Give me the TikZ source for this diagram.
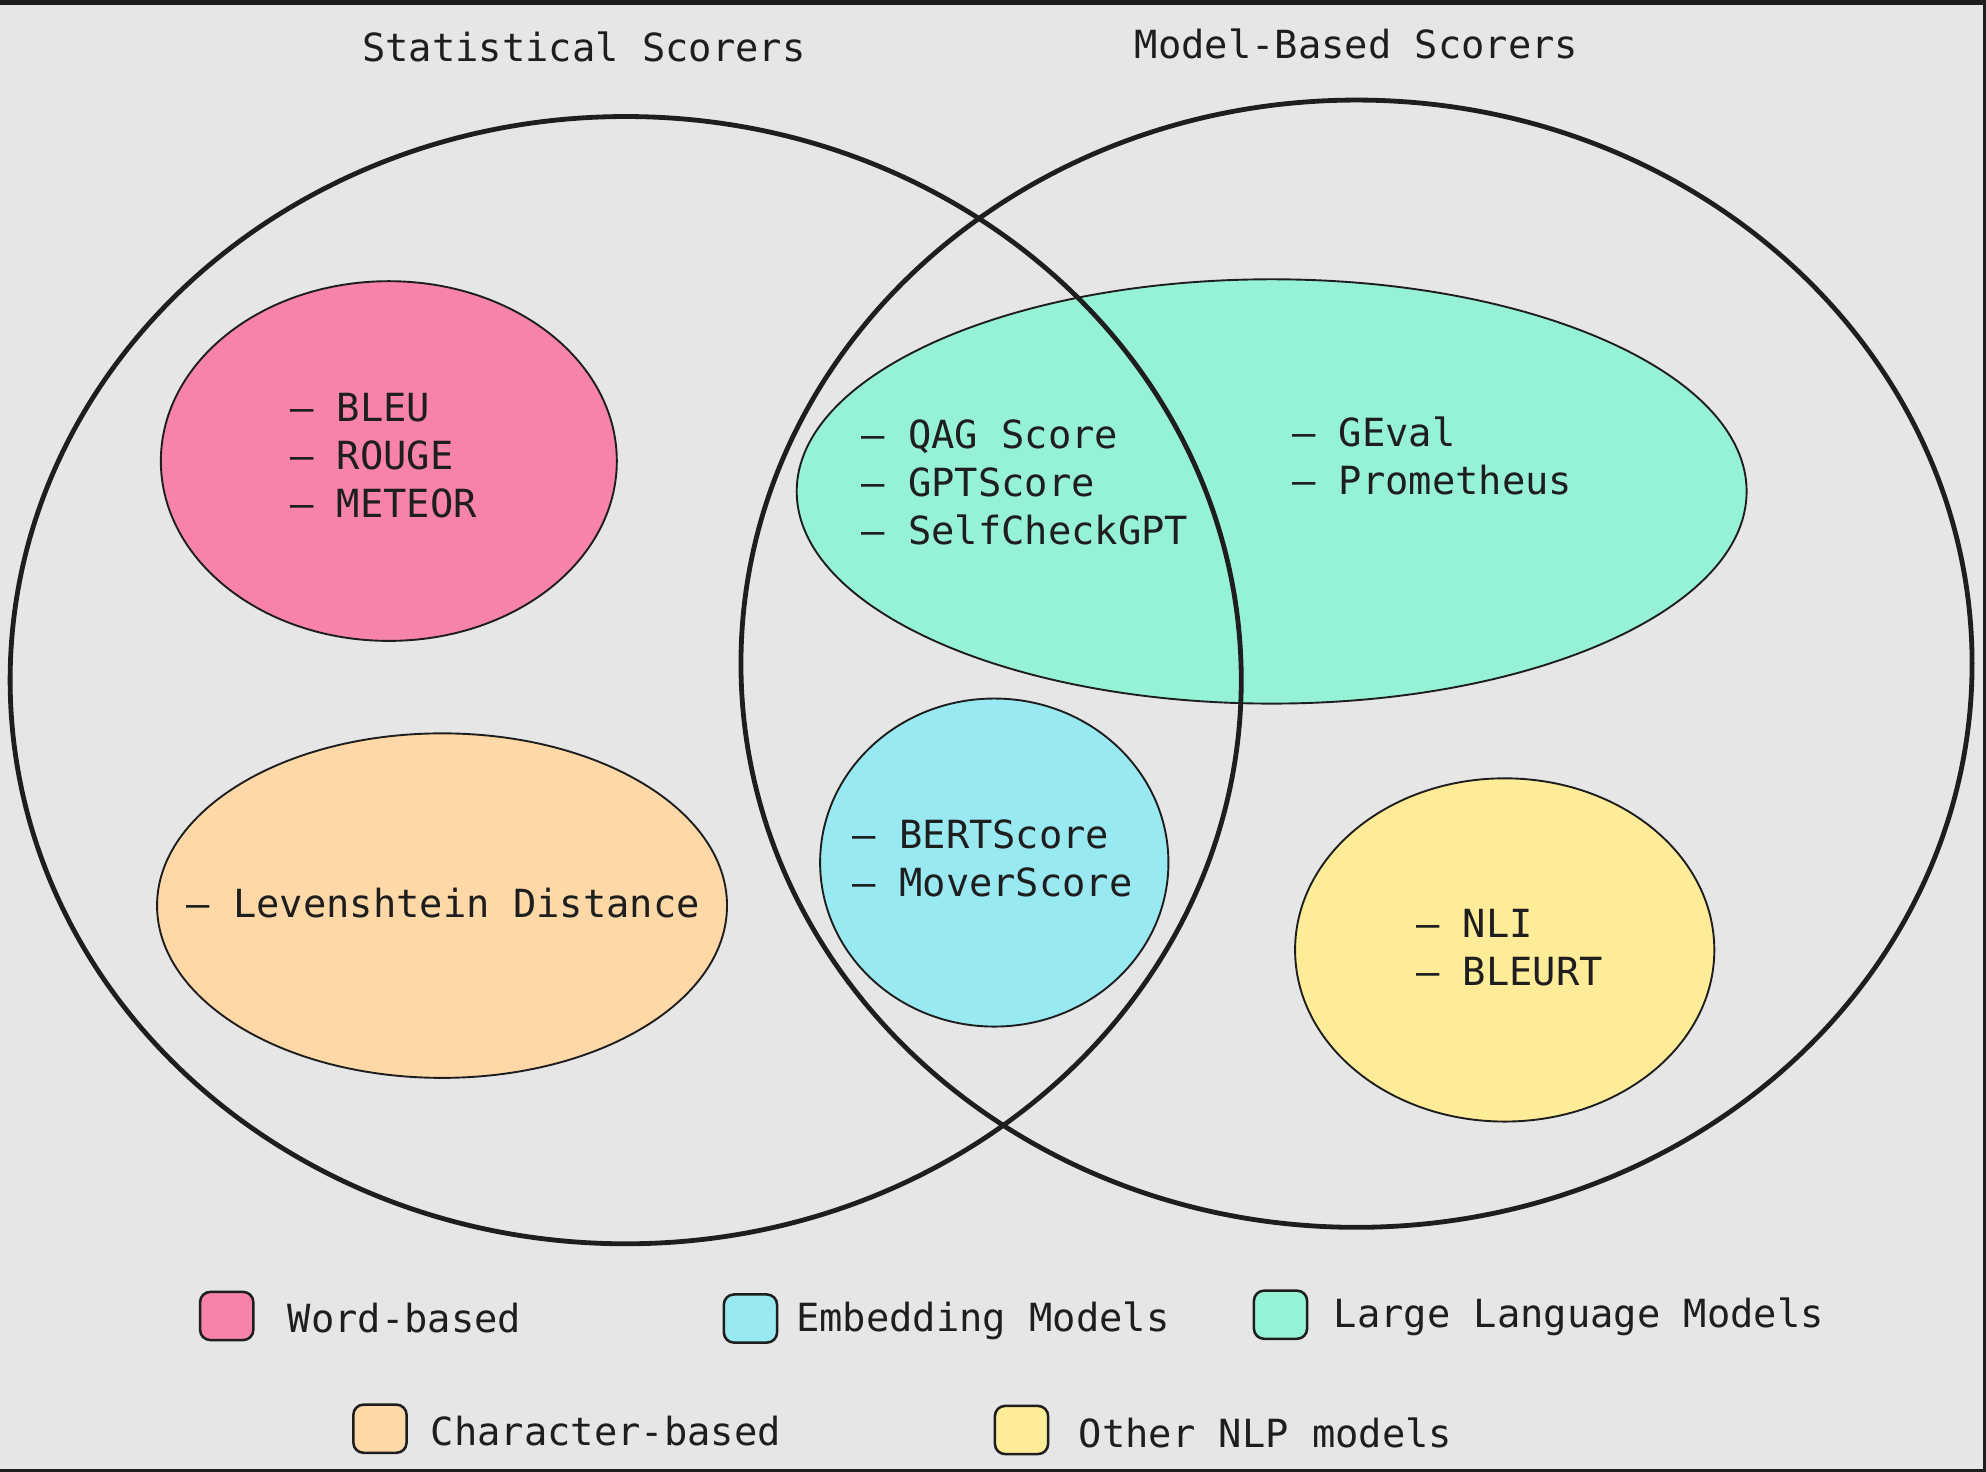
\documentclass[tikz,border=0pt]{standalone}
\usepackage{fontspec}
\setmonofont{DejaVu Sans Mono}
\usetikzlibrary{shapes.geometric,positioning}
\definecolor{bgray}{HTML}{E6E6E6}
\definecolor{inkc}{HTML}{1E1E1E}
\definecolor{wordc}{HTML}{F783AC}
\definecolor{charc}{HTML}{FFD8A8}
\definecolor{llmc}{HTML}{96F2D7}
\definecolor{embc}{HTML}{99E9F2}
\definecolor{nlpc}{HTML}{FFEC99}
\tikzset{
  setring/.style={draw=inkc, line width=3.8pt, ellipse, inner sep=0pt},
  group/.style={draw=inkc, line width=1.5pt, ellipse, inner sep=0pt},
  items/.style={font=\ttfamily\fontsize{30.6}{38}\selectfont, text=inkc, align=left, anchor=west, inner sep=0pt},
  heading/.style={font=\ttfamily\fontsize{30.6}{38}\selectfont, text=inkc, inner sep=0pt},
  keybox/.style={draw=inkc, line width=2pt, rounded corners=8pt, minimum width=42pt, minimum height=38pt, inner sep=0pt},
  keytext/.style={font=\ttfamily\fontsize{30.6}{38}\selectfont, text=inkc, inner sep=0pt, anchor=west, yshift=-2pt}
}
\begin{document}
\begin{tikzpicture}[x=1pt, y=-1pt]
\useasboundingbox (0,0) rectangle (1568,1162);
\fill[bgray] (0,0) rectangle (1568,1162);
\fill[inkc] (0,0) rectangle (1568,4);
\fill[inkc] (1566,0) rectangle (1568,1162);
\fill[inkc] (0,1159.5) rectangle (1568,1162);
% groups of scorers
\node[group, fill=wordc, minimum width=360pt, minimum height=284pt] (word) at (307,364) {};
\node[group, fill=charc, minimum width=450pt, minimum height=272pt] (char) at (349,715) {};
\node[group, fill=llmc, minimum width=750pt, minimum height=335pt] (llm) at (1004,388) {};
\node[group, fill=embc, minimum width=275pt, minimum height=259pt] (emb) at (785,681) {};
\node[group, fill=nlpc, minimum width=331pt, minimum height=271pt] (nlp) at (1188,750) {};
% the two sets
\node[setring, minimum width=972pt, minimum height=890pt] (stat) at (494,537) {};
\node[setring, minimum width=972pt, minimum height=890pt] (model) at (1071,524) {};
\node[heading] (stattitle) at (461,37) {Statistical Scorers};
\node[heading] (modeltitle) at (1071,35) {Model-Based Scorers};
% members
\node[items] (wordlist) at (229,360) {– BLEU\\– ROUGE\\– METEOR};
\node[items] (charlist) at (147,713) {– Levenshtein Distance};
\node[items] (llmlist) at (680,381) {– QAG Score\\– GPTScore\\– SelfCheckGPT};
\node[items] (llmonly) at (1020,360) {– GEval\\– Prometheus};
\node[items] (emblist) at (673,678) {– BERTScore\\– MoverScore};
\node[items] (nlplist) at (1118,748) {– NLI\\– BLEURT};
% legend
\node[keybox, fill=wordc] (kword) at (179,1039) {};
\node[keytext, right=26pt of kword] (lword) {Word-based};
\node[keybox, fill=embc] (kemb) at (592.5,1041) {};
\node[keytext, right=14pt of kemb] (lemb) {Embedding Models};
\node[keybox, fill=llmc] (kllm) at (1011,1038) {};
\node[keytext, right=20pt of kllm] (lllm) {Large Language Models};
\node[keybox, fill=charc] (kchar) at (300,1128) {};
\node[keytext, right=18pt of kchar] (lchar) {Character-based};
\node[keybox, fill=nlpc] (knlp) at (806.5,1129) {};
\node[keytext, right=23pt of knlp] (lnlp) {Other NLP models};
\end{tikzpicture}
\end{document}
